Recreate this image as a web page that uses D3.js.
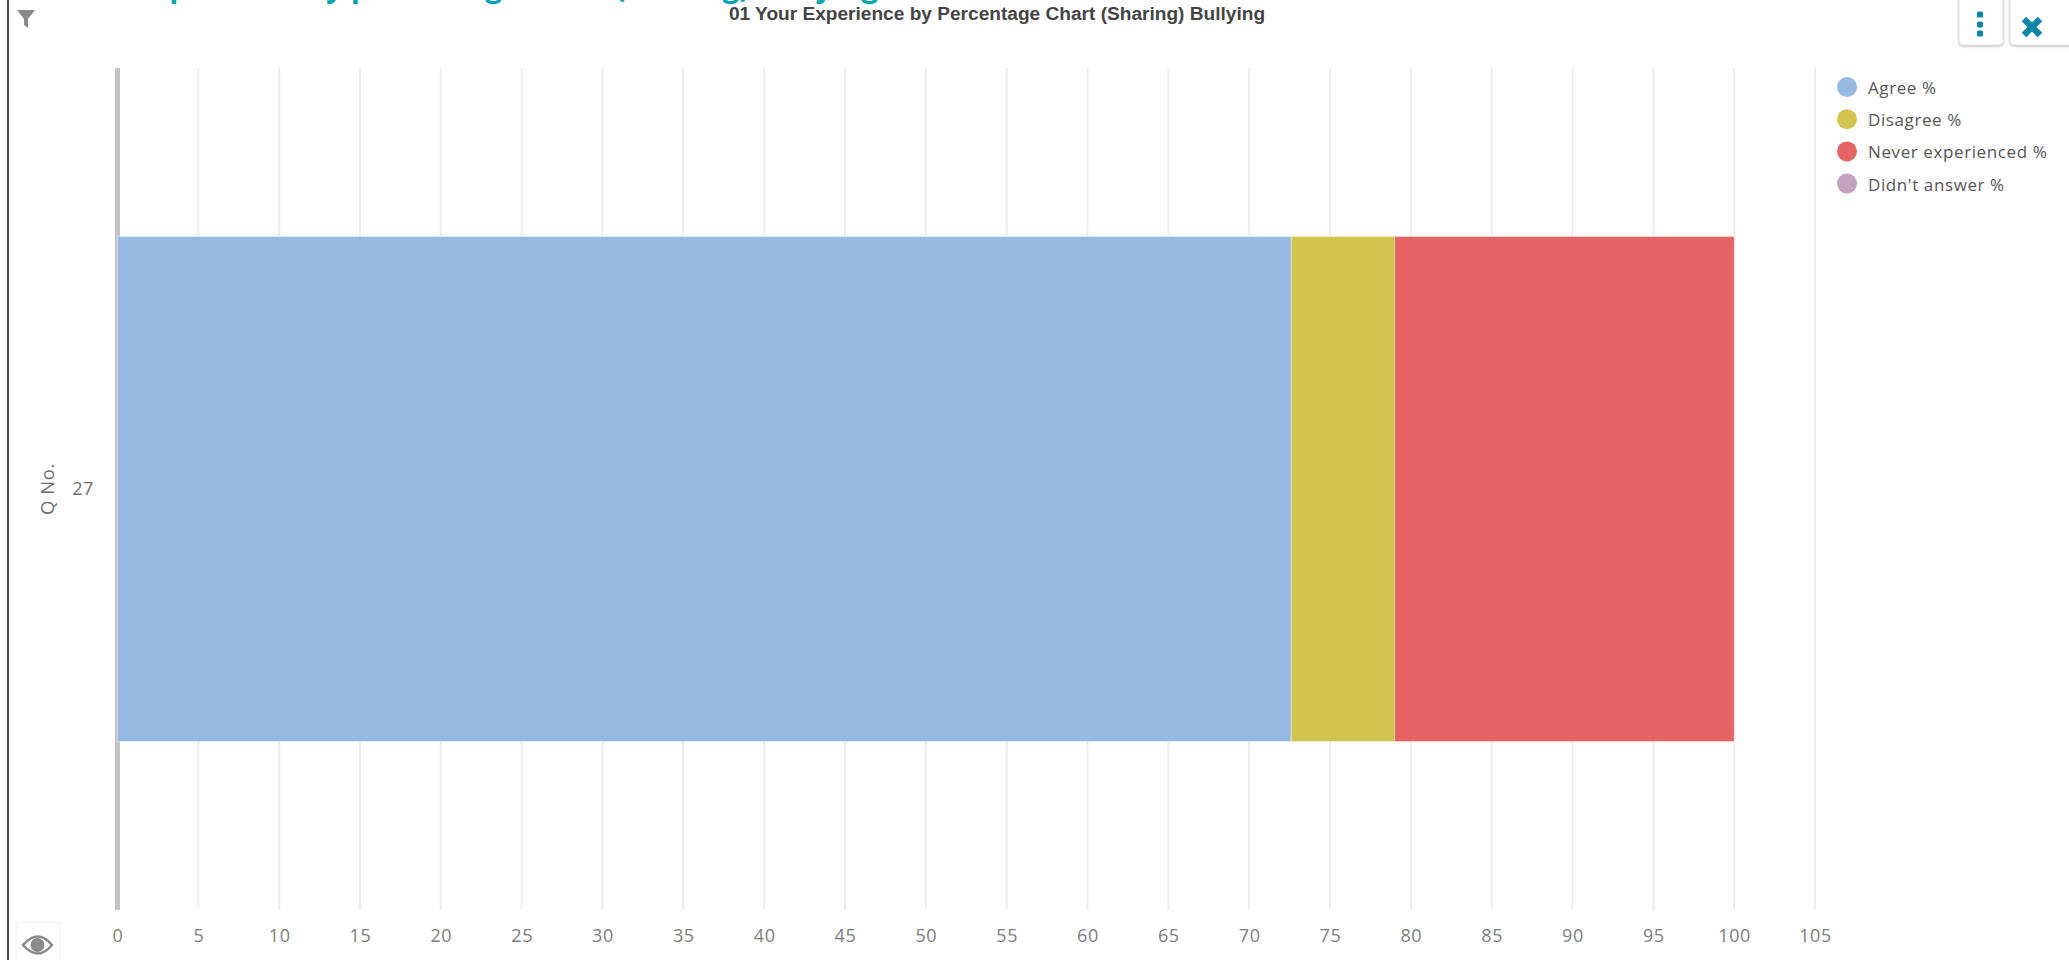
<!DOCTYPE html>
<html><head><meta charset="utf-8"><script src="https://cdn.jsdelivr.net/npm/d3@7/dist/d3.min.js"></script>
<style>html,body{margin:0;padding:0;background:#fff;overflow:hidden}svg{display:block}</style></head><body>
<div id="c"></div>
<script>
const categories=["27"];
const seriesNames=["Agree %","Disagree %","Never experienced %","Didn't answer %"];
const seriesValues=[72.6,6.4,21,0];
const seriesColors=["#95b9e0","#d3c44f","#e66363","#c6a0bf"];
const xTicks=[0,5,10,15,20,25,30,35,40,45,50,55,60,65,70,75,80,85,90,95,100,105];
const chartTitle="01 Your Experience by Percentage Chart (Sharing) Bullying";
const pageTitle="Experience by percentage chart (Sharing) Bullying";
const yAxisTitle="Q No.";
const W=2069,H=960;
const FONT="'Open Sans',sans-serif";
const svg=d3.select("#c").append("svg").attr("width",W).attr("height",H);
const x=d3.scaleLinear().domain([0,105]).range([117.5,1815]);
const y=d3.scaleBand().domain(categories).range([68,910]).paddingInner(0).paddingOuter(0);
const bandInset=168.5;

// page frame
svg.append("rect").attr("x",7).attr("y",0).attr("width",2).attr("height",H).attr("fill","#4a4a4a");

// grid
svg.append("g").selectAll("line").data(xTicks.slice(1)).join("line")
 .attr("x1",d=>x(d)).attr("x2",d=>x(d)).attr("y1",68).attr("y2",910)
 .attr("stroke","#eeeeee").attr("stroke-width",2);
svg.append("line").attr("x1",x(0)).attr("x2",x(0)).attr("y1",68).attr("y2",910)
 .attr("stroke","#c4c4c4").attr("stroke-width",5);

// bars
const stacked=[];let acc=0;
seriesValues.forEach((v,i)=>{stacked.push({name:seriesNames[i],c:seriesColors[i],x0:acc,x1:acc+v});acc+=v;});
svg.append("g").selectAll("rect").data(stacked.filter(d=>d.x1>d.x0)).join("rect")
 .attr("x",d=>x(d.x0)).attr("width",d=>x(d.x1)-x(d.x0))
 .attr("y",y("27")+bandInset).attr("height",y.bandwidth()-2*bandInset)
 .attr("fill",d=>d.c).attr("stroke","#fff").attr("stroke-opacity",.4).attr("stroke-width",1);

// x axis
const ax=d3.axisBottom(x).tickValues(xTicks).tickSize(0).tickPadding(0);
const gx=svg.append("g").attr("transform","translate(0,929)").call(ax);
gx.select(".domain").remove();
gx.selectAll("text").attr("font-family",FONT).attr("font-size",18).attr("letter-spacing",0.6).attr("fill","#7d7d7d").attr("dy","0.71em").attr("y",0);

// y axis
const ay=d3.axisLeft(y).tickSize(0).tickPadding(0);
const gy=svg.append("g").attr("transform","translate(94,0)").call(ay);
gy.select(".domain").remove();
gy.selectAll("text").attr("font-family",FONT).attr("font-size",18).attr("letter-spacing",0.6).attr("fill","#6e6e6e");
svg.append("text").attr("transform",`translate(54,489) rotate(-90)`).attr("text-anchor","middle")
 .attr("font-family",FONT).attr("font-size",18.5).attr("letter-spacing",0.6).attr("fill","#6e6e6e").text(yAxisTitle);

// titles
svg.append("text").attr("x",997).attr("y",20).attr("text-anchor","middle")
 .attr("font-family","'Liberation Sans',Arial,sans-serif").attr("font-weight",700).attr("font-size",19.1).attr("fill","#444").text(chartTitle);
svg.append("text").attr("x",135).attr("y",-3).attr("font-family",FONT).attr("font-weight",700).attr("font-size",30)
 .attr("fill","#0aa2b5").text(pageTitle);

// legend
const lg=svg.append("g").selectAll("g").data(seriesNames).join("g")
 .attr("transform",(d,i)=>`translate(0,${87+i*32.2})`);
lg.append("circle").attr("cx",1847).attr("cy",0).attr("r",10).attr("fill",(d,i)=>seriesColors[i]);
lg.append("text").attr("x",1868).attr("y",1).attr("dy","0.35em").attr("font-family",FONT).attr("font-size",17).attr("letter-spacing",0.6).attr("fill","#555").text(d=>d);

// filter icon
svg.append("path").attr("d","M17 10H35L28 19V28L24 25V19Z").attr("fill","#8a8a8a");

// buttons
function btn(bx,bw){svg.append("rect").attr("x",bx).attr("y",-6).attr("width",bw).attr("height",51).attr("rx",4)
 .attr("fill","#fff").attr("stroke","#e4e4e4").style("filter","drop-shadow(0 1px 1px rgba(0,0,0,.25))");}
btn(1959,44);btn(2010,70);
[14,24,33].forEach(cy=>svg.append("rect").attr("x",1977).attr("y",cy-2.5).attr("width",6).attr("height",6).attr("rx",1.5).attr("fill","#0a84a8"));
svg.append("path").attr("d","M2024 19L2040 35M2040 19L2024 35").attr("stroke","#0a84a8").attr("stroke-width",6.5);

// eye button
svg.append("rect").attr("x",16).attr("y",922).attr("width",44).attr("height",50).attr("rx",4).attr("fill","#fff").attr("stroke","#f0f0f0");
svg.append("path").attr("d","M23 945Q38 928 52 945Q38 962 23 945Z").attr("fill","#fff").attr("stroke","#8a8a8a").attr("stroke-width",2.5);
svg.append("circle").attr("cx",37.5).attr("cy",945).attr("r",7).attr("fill","#8a8a8a");
</script></body></html>
